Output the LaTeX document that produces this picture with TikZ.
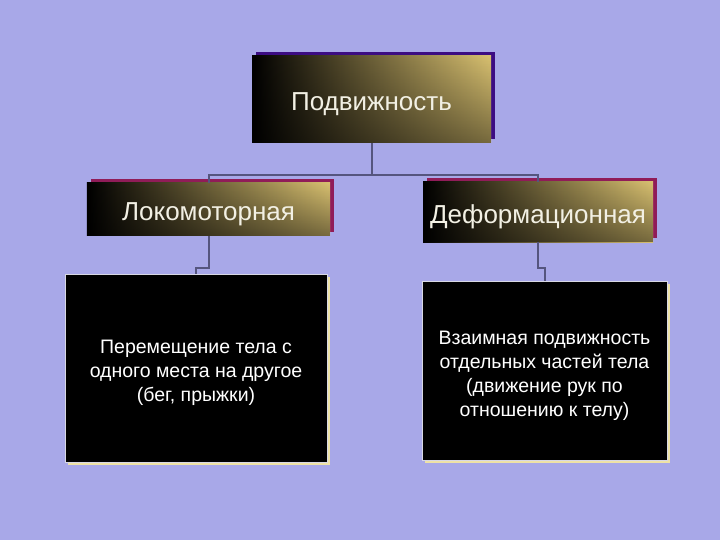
\documentclass[tikz,border=0pt]{standalone}
\usepackage{fontspec}
\setmainfont{Liberation Sans}
\usetikzlibrary{shadows,fadings}
\newcommand{\dropby}[1]{\raisebox{-5bp}[\height][\depth]{#1}}

\begin{document}
\begin{tikzpicture}[
  x=1bp, y=-1bp,
  head/.style={rectangle, inner sep=0pt, left color=black, right color=hdGold,
    text=hdText, font=\fontsize{26bp}{30bp}\selectfont,
    path picture={\fill[black, path fading=north, opacity=.45]
      (path picture bounding box.south west) rectangle (path picture bounding box.north east);}},
  desc/.style={rectangle, inner sep=0pt, fill=black, draw=descLine, line width=0.8bp,
    text=white, font=\fontsize{19.5bp}{24bp}\selectfont,
    general shadow={fill=descEdge, shadow xshift=3bp, shadow yshift=-3bp}},
  link/.style={draw=linkGray, line width=2bp},
]
\definecolor{bgLavender}{HTML}{A8A8E8}
\definecolor{hdGold}{HTML}{D8C070}
\definecolor{hdText}{HTML}{F2F0E4}
\definecolor{hdIndigo}{HTML}{3C0C82}
\definecolor{hdMaroon}{HTML}{901C58}
\definecolor{descEdge}{HTML}{EEE2A6}
\definecolor{descLine}{HTML}{D8D8E4}
\definecolor{linkGray}{HTML}{55557E}

\fill[bgLavender] (0,0) rectangle (720,540);
\useasboundingbox (0,0) rectangle (720,540);

% top level
\node[head, minimum width=239bp, minimum height=87bp,
  general shadow={fill=hdIndigo, shadow xshift=4bp, shadow yshift=4bp}]
  (mobility) at (371.5,99.5) {\dropby{Подвижность}};

% two kinds
\node[head, minimum width=243bp, minimum height=53bp,
  general shadow={fill=hdMaroon, shadow xshift=4bp, shadow yshift=4bp}]
  (loco) at (208.5,209.5) {\dropby{Локомоторная}};
\node[head, minimum width=230bp, minimum height=60bp,
  general shadow={fill=hdMaroon, shadow xshift=4bp, shadow yshift=4bp}]
  (deform) at (538,212) {\dropby{Деформационная}};

% explanations
\node[desc, minimum width=262bp, minimum height=188bp]
  (locotext) at (196,368) {\dropby{\begin{tabular}{@{}c@{}}Перемещение тела с\\
    одного места на другое\\(бег, прыжки)\end{tabular}}};
\node[desc, minimum width=245bp, minimum height=179bp]
  (deformtext) at (544.5,370.5) {\dropby{\begin{tabular}{@{}c@{}}Взаимная подвижность\\
    отдельных частей тела\\(движение рук по\\отношению к телу)\end{tabular}}};

\coordinate (bus) at (371.5,175);
\draw[link] (mobility.south) -- (bus) -| (loco.north);
\draw[link] (bus) -| (deform.north);
\draw[link] (loco.south) -- ++(0,32) -| (locotext.north);
\draw[link] (deform.south) -- ++(0,26) -| (deformtext.north);
\end{tikzpicture}
\end{document}
